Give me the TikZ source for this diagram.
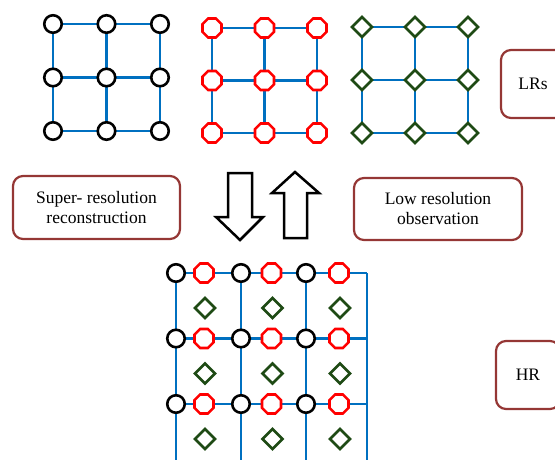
\documentclass[tikz,border=0pt]{standalone}
\usepackage{fontspec}
\setmainfont{Liberation Serif}
\usetikzlibrary{shapes.geometric}
\definecolor{gridblue}{HTML}{0070C0}
\definecolor{boxred}{HTML}{953735}
\definecolor{dgreen}{HTML}{1E4A14}
\tikzset{
 circ/.style={circle, draw=black, fill=white, line width=2.6pt, minimum size=17.5pt, inner sep=0pt},
 octa/.style={regular polygon, regular polygon sides=8, draw=red, fill=white, line width=2.6pt, minimum size=20.5pt, inner sep=0pt},
 diam/.style={diamond, aspect=1, draw=dgreen, fill=white, line width=2.6pt, minimum size=21pt, inner sep=0pt},
 gline/.style={draw=gridblue, line width=2.4pt},
 lbox/.style={draw=boxred, line width=2.2pt, rounded corners=10pt, align=center, font=\fontsize{17.5}{20}\selectfont, inner sep=0pt},
 barrow/.style={draw=black, line width=2.5pt, fill=white, line join=miter}
}
\newcommand{\lrgrid}[5]{%
 \foreach \i in {0,1,2}{\foreach \j in {0,1,2}{\coordinate (#1\i\j) at ({#2+\i*#4},{#3+\j*#4});}}
 \foreach \i in {0,1,2}{\draw[gline] (#1\i0) -- (#1\i2); \draw[gline] (#10\i) -- (#12\i);}
 \foreach \i in {0,1,2}{\foreach \j in {0,1,2}{\node[#5] (n#1\i\j) at (#1\i\j) {};}}
}
\begin{document}
\begin{tikzpicture}[x=1pt,y=-1pt]
\useasboundingbox (0,0) rectangle (555,460);
\clip (0,0) rectangle (555,460);
% LR grids
\lrgrid{a}{53}{24}{53.5}{circ}
\lrgrid{b}{212}{28}{52.5}{octa}
\lrgrid{c}{362}{27}{53}{diam}
% HR grid coordinates
\foreach \c in {0,1,2}{
  \foreach \r in {0,1,2}{
    \coordinate (hk\c\r) at ({176+\c*65},{273+\r*65.5});
    \coordinate (hr\c\r) at ({204+\c*67.5},{273+\r*65.5});
    \coordinate (hd\c\r) at ({205+\c*67.5},{308+\r*65.5});
  }
  \coordinate (hb\c) at ({176+\c*65},463);
}
\foreach \r in {0,1,2}{\coordinate (he\r) at (367,{273+\r*65.5});}
\coordinate (hb3) at (367,463);
% HR lines
\foreach \r in {0,1,2}{\draw[gline] (hk0\r) -- (he\r);}
\foreach \c in {0,1,2}{\draw[gline] (hk\c0) -- (hb\c);}
\draw[gline] (he0) -- (hb3);
% HR markers
\foreach \c in {0,1,2}{
  \foreach \r in {0,1,2}{
    \node[circ] (nhk\c\r) at (hk\c\r) {};
    \node[octa] (nhr\c\r) at (hr\c\r) {};
    \node[diam] (nhd\c\r) at (hd\c\r) {};
  }
}
% block arrows
\draw[barrow] (228,173) -- (252,173) -- (252,217) -- (263,217) -- (240,240) -- (216,217) -- (228,217) -- cycle;
\draw[barrow] (295,172) -- (319,193) -- (307,193) -- (307,238) -- (284,238) -- (284,193) -- (272,193) -- cycle;
% label boxes
\node[lbox, minimum width=167pt, minimum height=63pt] (sr) at (96.5,207.5) {Super- resolution\\reconstruction};
\node[lbox, minimum width=168pt, minimum height=62pt] (lo) at (438,209) {Low resolution\\observation};
\node[lbox, minimum width=64pt, minimum height=68pt] (lrs) at (533,84) {LRs};
\node[lbox, minimum width=64pt, minimum height=68pt] (hrb) at (528,375) {HR};
\end{tikzpicture}
\end{document}
